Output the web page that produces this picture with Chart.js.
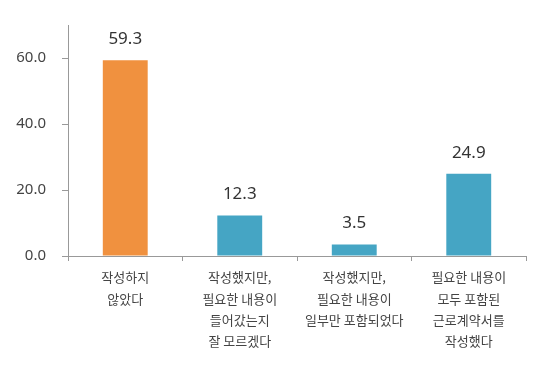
<!DOCTYPE html>
<html><head><meta charset="utf-8">
<script src="https://cdn.jsdelivr.net/npm/chart.js@4"></script>
<style>html,body{margin:0;padding:0;background:#fff}#wrap{width:550px;height:369px}</style>
</head><body><div id="wrap"><canvas id="c" width="550" height="369"></canvas></div>
<script>
const categories = [
  ["작성하지", "않았다"],
  ["작성했지만,", "필요한 내용이", "들어갔는지", "잘 모르겠다"],
  ["작성했지만,", "필요한 내용이", "일부만 포함되었다"],
  ["필요한 내용이", "모두 포함된", "근로계약서를", "작성했다"]
];
const values = [59.3, 12.3, 3.5, 24.9];
const barColors = ["#F0913F", "#45A5C4", "#45A5C4", "#45A5C4"];
const yTicks = [0, 20, 40, 60];

const labelPlugin = {
  id: 'valLabels',
  afterDatasetsDraw(chart) {
    const ctx = chart.ctx;
    const meta = chart.getDatasetMeta(0);
    ctx.save();
    ctx.font = '17px "Noto Sans", sans-serif';
    ctx.fillStyle = '#333';
    ctx.textAlign = 'center';
    ctx.textBaseline = 'middle';
    meta.data.forEach((el, i) => {
      ctx.fillText(values[i].toFixed(1), el.x, el.y - 21);
    });
    ctx.restore();
  }
};

new Chart(document.getElementById('c'), {
  type: 'bar',
  data: {
    labels: categories,
    datasets: [{ data: values, backgroundColor: barColors, barPercentage: 0.49, categoryPercentage: 0.8 }]
  },
  options: {
    responsive: false,
    animation: false,
    layout: { padding: { top: 18, right: 24, left: 0, bottom: 0 } },
    plugins: { legend: { display: false }, tooltip: { enabled: false } },
    scales: {
      x: {
        grid: { drawOnChartArea: false, drawTicks: true, tickLength: 5, color: '#999' },
        border: { color: '#999' },
        ticks: {
          color: '#444', padding: 6,
          font: { family: '"Noto Sans CJK KR", sans-serif', size: 13, lineHeight: 1.62 },
          maxRotation: 0, autoSkip: false
        },
        afterFit(scale) { scale.height = 113; }
      },
      y: {
        min: 0, max: 70,
        grid: { drawOnChartArea: false, drawTicks: true, tickLength: 6, color: '#999' },
        border: { color: '#999' },
        ticks: {
          stepSize: 20, color: '#444', padding: 16,
          font: { family: '"Noto Sans", sans-serif', size: 15 },
          callback: v => v.toFixed(1)
        },
        afterBuildTicks(scale) { scale.ticks = yTicks.map(v => ({ value: v })); },
        afterFit(scale) { scale.width = 68; }
      }
    }
  },
  plugins: [labelPlugin]
});
</script></body></html>
